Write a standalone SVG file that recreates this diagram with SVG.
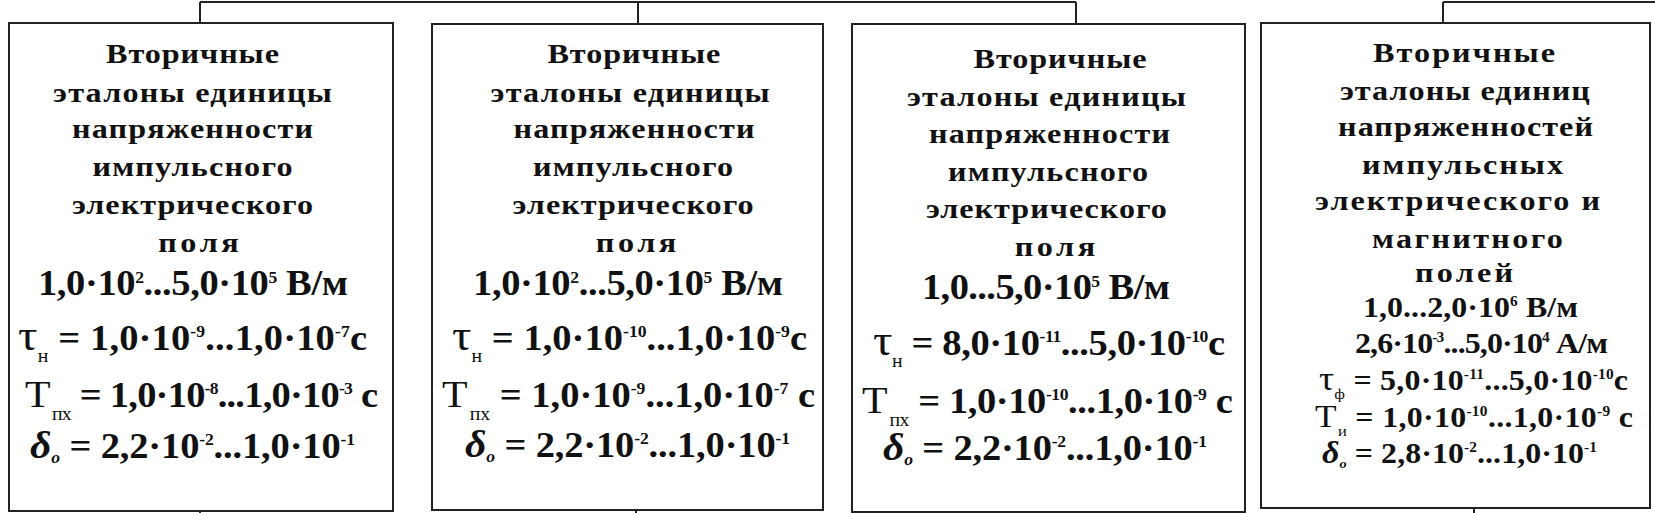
<svg xmlns="http://www.w3.org/2000/svg" width="1655" height="513" viewBox="0 0 1655 513">
<style>
.box{fill:#fff;stroke:#222;stroke-width:2}
.conn{fill:none;stroke:#222;stroke-width:2}
text{font-family:"Liberation Serif","Times New Roman",serif;fill:#111;text-anchor:middle}
.t{font-weight:bold;font-size:28px}
.n{font-weight:bold;font-size:35px}
.n4{font-weight:bold;font-size:29px}
.sup{font-size:16px}
.n4 .sup{font-size:14px}
.g{font-weight:normal;font-size:44px}
.n4 .g{font-size:34px}
.T{font-weight:normal;font-size:38px}
.n4 .T{font-size:32px}
.sub{font-weight:normal;font-size:18px}
.n4 .sub{font-size:15px}
.d{font-style:italic;font-size:38px}
.n4 .d{font-size:31px}
.ds{font-style:italic;font-size:16px}
.n4 .ds{font-size:13px}
</style>
<g id="connectors">
<path class="conn" d="M200 2H1076M200 2V23M638 2V24M1076 2V24M1443 2H1655M1443 2V23M200 511V513M636 510V513M1474 508V513"/>
</g>
<g id="box1">
<rect class="box" x="9" y="23" width="384" height="488"/>
<g transform="translate(201 0) scale(1.15 1)">
<text class="t" x="-7.4" y="63" textLength="150.4" lengthAdjust="spacing">Вторичные</text>
<text class="t" x="-7.4" y="102" textLength="242.6" lengthAdjust="spacing">эталоны единицы</text>
<text class="t" x="-7.4" y="138" textLength="209.6" lengthAdjust="spacing">напряженности</text>
<text class="t" x="-7.4" y="176" textLength="173.9" lengthAdjust="spacing">импульсного</text>
<text class="t" x="-7.4" y="214" textLength="209.6" lengthAdjust="spacing">электрического</text>
<text class="t" x="-2.2" y="252" textLength="70" lengthAdjust="spacing">поля</text>
</g>
<g transform="translate(201 0) scale(1.1 1)">
<text class="n" x="-7.3" y="295" textLength="281.8" lengthAdjust="spacing">1,0·10<tspan class="sup" dy="-12">2</tspan><tspan dy="12">...5,0·10</tspan><tspan class="sup" dy="-12">5</tspan><tspan dy="12"> В/м</tspan></text>
<text class="n" x="-7.7" y="350" textLength="317.3" lengthAdjust="spacing"><tspan class="g">τ</tspan><tspan class="sub" dy="12">н</tspan><tspan dy="-12"> = 1,0·10</tspan><tspan class="sup" dy="-13">-9</tspan><tspan dy="13">...1,0·10</tspan><tspan class="sup" dy="-13">-7</tspan><tspan dy="13">с</tspan></text>
<text class="n" x="0.5" y="407" textLength="320.9" lengthAdjust="spacing"><tspan class="T">Т</tspan><tspan class="sub" dx="2" dy="13">пх</tspan><tspan dy="-13"> = 1,0·10</tspan><tspan class="sup" dy="-13">-8</tspan><tspan dy="13">...1,0·10</tspan><tspan class="sup" dy="-13">-3</tspan><tspan dy="13"> с</tspan></text>
<text class="n" x="-7.7" y="458" textLength="295.5" lengthAdjust="spacing"><tspan class="d">δ</tspan><tspan class="ds" dy="5">o</tspan><tspan dy="-5"> = 2,2·10</tspan><tspan class="sup" dy="-13">-2</tspan><tspan dy="13">...1,0·10</tspan><tspan class="sup" dy="-13">-1</tspan></text>
</g>
</g>
<g id="box2">
<rect class="box" x="432" y="24" width="391" height="486"/>
<g transform="translate(627.5 0) scale(1.15 1)">
<text class="t" x="5.6" y="63" textLength="150.4" lengthAdjust="spacing">Вторичные</text>
<text class="t" x="2.2" y="102" textLength="242.6" lengthAdjust="spacing">эталоны единицы</text>
<text class="t" x="5.6" y="138" textLength="209.6" lengthAdjust="spacing">напряженности</text>
<text class="t" x="4.8" y="176" textLength="173.9" lengthAdjust="spacing">импульсного</text>
<text class="t" x="4.8" y="214" textLength="209.6" lengthAdjust="spacing">электрического</text>
<text class="t" x="7.4" y="252" textLength="70" lengthAdjust="spacing">поля</text>
</g>
<g transform="translate(627.5 0) scale(1.1 1)">
<text class="n" x="0.5" y="295" textLength="281.8" lengthAdjust="spacing">1,0·10<tspan class="sup" dy="-12">2</tspan><tspan dy="12">...5,0·10</tspan><tspan class="sup" dy="-12">5</tspan><tspan dy="12"> В/м</tspan></text>
<text class="n" x="1.8" y="350" textLength="322.7" lengthAdjust="spacing"><tspan class="g">τ</tspan><tspan class="sub" dy="12">н</tspan><tspan dy="-12"> = 1,0·10</tspan><tspan class="sup" dy="-13">-10</tspan><tspan dy="13">...1,0·10</tspan><tspan class="sup" dy="-13">-9</tspan><tspan dy="13">с</tspan></text>
<text class="n" x="0.9" y="407" textLength="339.1" lengthAdjust="spacing"><tspan class="T">Т</tspan><tspan class="sub" dx="2" dy="13">пх</tspan><tspan dy="-13"> = 1,0·10</tspan><tspan class="sup" dy="-13">-9</tspan><tspan dy="13">...1,0·10</tspan><tspan class="sup" dy="-13">-7</tspan><tspan dy="13"> с</tspan></text>
<text class="n" x="0" y="457" textLength="295.5" lengthAdjust="spacing"><tspan class="d">δ</tspan><tspan class="ds" dy="5">o</tspan><tspan dy="-5"> = 2,2·10</tspan><tspan class="sup" dy="-13">-2</tspan><tspan dy="13">...1,0·10</tspan><tspan class="sup" dy="-13">-1</tspan></text>
</g>
</g>
<g id="box3">
<rect class="box" x="852" y="24" width="393" height="488"/>
<g transform="translate(1048.5 0) scale(1.15 1)">
<text class="t" x="10" y="68" textLength="150.4" lengthAdjust="spacing">Вторичные</text>
<text class="t" x="-1.8" y="106" textLength="242.6" lengthAdjust="spacing">эталоны единицы</text>
<text class="t" x="0.9" y="143" textLength="209.6" lengthAdjust="spacing">напряженности</text>
<text class="t" x="-0.4" y="181" textLength="173.9" lengthAdjust="spacing">импульсного</text>
<text class="t" x="-1.8" y="218" textLength="209.6" lengthAdjust="spacing">электрического</text>
<text class="t" x="5.6" y="256" textLength="70" lengthAdjust="spacing">поля</text>
</g>
<g transform="translate(1048.5 0) scale(1.1 1)">
<text class="n" x="-2.3" y="299" textLength="225.5" lengthAdjust="spacing">1,0...5,0·10<tspan class="sup" dy="-12">5</tspan><tspan dy="12"> В/м</tspan></text>
<text class="n" x="0.5" y="355" textLength="320" lengthAdjust="spacing"><tspan class="g">τ</tspan><tspan class="sub" dy="12">н</tspan><tspan dy="-12"> = 8,0·10</tspan><tspan class="sup" dy="-13">-11</tspan><tspan dy="13">...5,0·10</tspan><tspan class="sup" dy="-13">-10</tspan><tspan dy="13">с</tspan></text>
<text class="n" x="-1" y="413" textLength="337" lengthAdjust="spacing"><tspan class="T">Т</tspan><tspan class="sub" dx="2" dy="13">пх</tspan><tspan dy="-13"> = 1,0·10</tspan><tspan class="sup" dy="-13">-10</tspan><tspan dy="13">...1,0·10</tspan><tspan class="sup" dy="-13">-9</tspan><tspan dy="13"> с</tspan></text>
<text class="n" x="-3.2" y="460" textLength="294.5" lengthAdjust="spacing"><tspan class="d">δ</tspan><tspan class="ds" dy="5">o</tspan><tspan dy="-5"> = 2,2·10</tspan><tspan class="sup" dy="-13">-2</tspan><tspan dy="13">...1,0·10</tspan><tspan class="sup" dy="-13">-1</tspan></text>
</g>
</g>
<g id="box4">
<rect class="box" x="1261" y="23" width="389" height="485"/>
<g transform="translate(1455.5 0) scale(1.15 1)">
<text class="t" x="7.4" y="62" textLength="158.3" lengthAdjust="spacing">Вторичные</text>
<text class="t" x="8.2" y="100" textLength="217.4" lengthAdjust="spacing">эталоны единиц</text>
<text class="t" x="8.7" y="136" textLength="221.7" lengthAdjust="spacing">напряженностей</text>
<text class="t" x="6.1" y="174" textLength="174.8" lengthAdjust="spacing">импульсных</text>
<text class="t" x="1.8" y="210" textLength="247.8" lengthAdjust="spacing">электрического и</text>
<text class="t" x="10.4" y="248" textLength="166.1" lengthAdjust="spacing">магнитного</text>
<text class="t" x="7.4" y="282" textLength="85.2" lengthAdjust="spacing">полей</text>
</g>
<g transform="translate(1455.5 0) scale(1.1 1)">
<text class="n4" x="13.6" y="317" textLength="195.5" lengthAdjust="spacing">1,0...2,0·10<tspan class="sup" dy="-11">6</tspan><tspan dy="11"> В/м</tspan></text>
<text class="n4" x="23.6" y="353" textLength="230" lengthAdjust="spacing">2,6·10<tspan class="sup" dy="-11">-3</tspan><tspan dy="11">...5,0·10</tspan><tspan class="sup" dy="-11">4</tspan><tspan dy="11"> А/м</tspan></text>
<text class="n4" x="16.4" y="390" textLength="280.9" lengthAdjust="spacing"><tspan class="g">τ</tspan><tspan class="sub" dy="9">ф</tspan><tspan dy="-9"> = 5,0·10</tspan><tspan class="sup" dy="-11">-11</tspan><tspan dy="11">...5,0·10</tspan><tspan class="sup" dy="-11">-10</tspan><tspan dy="11">с</tspan></text>
<text class="n4" x="16.8" y="427" textLength="289.1" lengthAdjust="spacing"><tspan class="T">Т</tspan><tspan class="sub" dx="1" dy="9">и</tspan><tspan dy="-9"> = 1,0·10</tspan><tspan class="sup" dy="-11">-10</tspan><tspan dy="11">...1,0·10</tspan><tspan class="sup" dy="-11">-9</tspan><tspan dy="11"> с</tspan></text>
<text class="n4" x="3.6" y="463" textLength="250" lengthAdjust="spacing"><tspan class="d">δ</tspan><tspan class="ds" dy="5">o</tspan><tspan dy="-5"> = 2,8·10</tspan><tspan class="sup" dy="-11">-2</tspan><tspan dy="11">...1,0·10</tspan><tspan class="sup" dy="-11">-1</tspan></text>
</g>
</g>
</svg>
